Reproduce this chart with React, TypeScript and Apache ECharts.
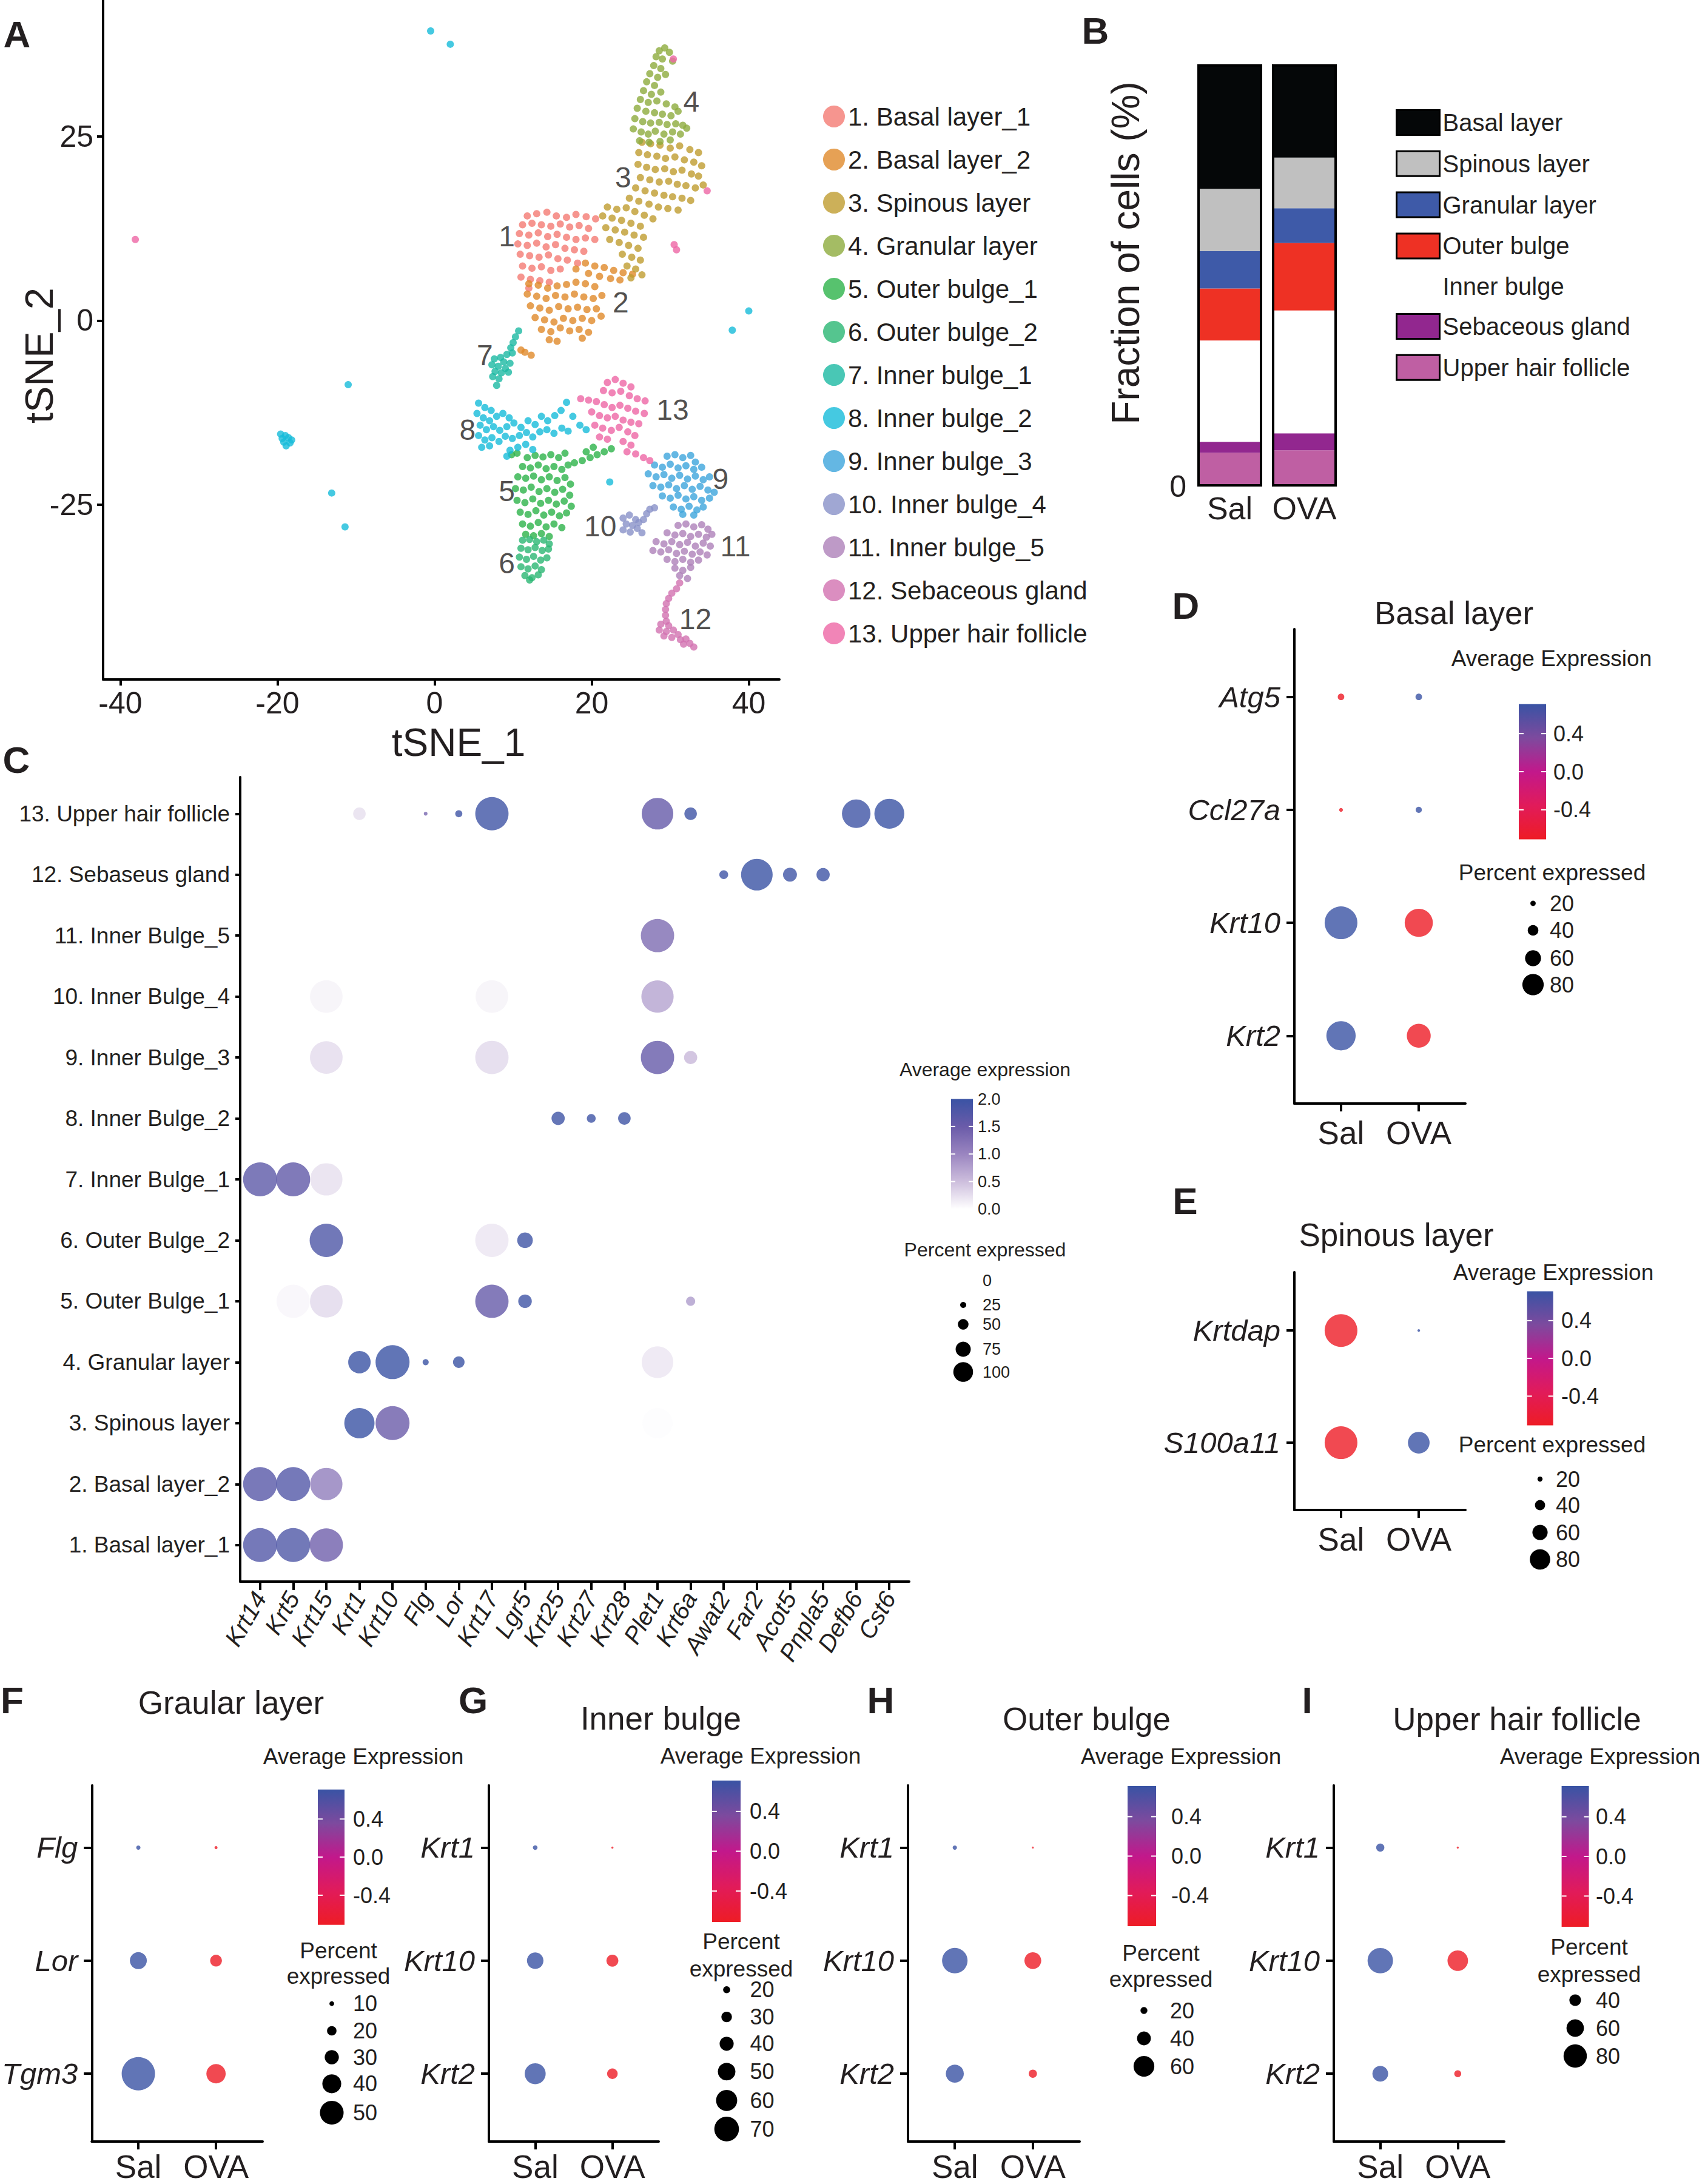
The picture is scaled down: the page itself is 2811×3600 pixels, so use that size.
import React, { useEffect, useRef } from "react";
import * as echarts from "echarts";

const FONT = "'Liberation Sans', Arial, Helvetica, sans-serif";
const INK = "#231f20";

// ================= Panel A : t-SNE =================
const CLUSTER_NAMES = ["1. Basal layer_1", "2. Basal layer_2", "3. Spinous layer", "4. Granular layer", "5. Outer bulge_1", "6. Outer bulge_2", "7. Inner bulge_1", "8. Inner bulge_2", "9. Inner bulge_3", "10. Inner bulge_4", "11. Inner bulge_5", "12. Sebaceous gland", "13. Upper hair follicle"];
const CLUSTER_COLORS = ["#f47b73", "#e0892a", "#bf9c2f", "#8dab3d", "#2db34a", "#2bb673", "#1cb9a2", "#17bcd9", "#3da5dc", "#8891c8", "#ae81b9", "#d272b0", "#ee66a5"];

const C1_PTS = [[11.8,14.2],[13.0,14.5],[14.3,14.7],[15.5,14.2],[16.8,14.0],[18.0,14.4],[19.3,14.1],[20.5,13.8],[11.2,13.0],[12.4,13.2],[13.6,13.0],[14.8,12.8],[16.0,13.1],[17.2,12.7],[18.4,12.9],[19.6,12.5],[10.8,11.8],[12.0,11.6],[13.2,11.9],[14.4,11.4],[15.6,11.7],[16.8,11.3],[18.0,11.0],[19.2,11.2],[20.4,11.0],[10.6,10.4],[11.8,10.2],[13.0,10.5],[14.2,10.0],[15.4,10.3],[16.6,9.8],[17.8,9.6],[19.0,9.4],[10.9,9.0],[12.1,8.8],[13.3,8.6],[14.5,8.9],[15.7,8.4],[16.9,8.2],[18.2,7.8],[11.2,7.4],[12.4,7.1],[13.6,7.3],[14.8,6.8],[16.0,7.0],[11.0,5.9],[12.2,5.6],[13.4,5.4],[14.6,5.2],[12.0,4.4]];
const C2_PTS = [[19.2,7.8],[20.4,7.4],[21.6,7.2],[22.8,6.8],[24.0,6.5],[25.2,6.3],[18.0,7.0],[19.6,6.4],[21.0,6.0],[22.4,5.7],[23.6,5.5],[12.0,5.0],[13.2,4.8],[14.4,4.4],[15.6,4.7],[16.8,4.9],[18.0,5.2],[19.2,5.0],[20.4,4.6],[11.8,3.6],[13.0,3.3],[14.2,3.0],[15.4,3.4],[16.6,3.2],[17.8,3.6],[19.0,3.2],[20.2,3.0],[21.3,3.4],[12.2,2.0],[13.4,1.7],[14.6,1.4],[15.8,1.9],[17.0,1.6],[18.2,1.8],[19.4,1.5],[20.6,1.6],[12.8,0.4],[14.0,0.1],[15.2,-0.2],[16.4,0.3],[17.6,0.0],[18.8,0.3],[20.0,0.0],[21.2,0.6],[13.6,-1.2],[14.8,-1.5],[16.0,-1.0],[17.2,-1.4],[18.4,-1.2],[19.6,-1.6],[14.6,-2.6],[15.6,-2.8],[18.8,-2.4],[11.5,-4.3],[12.3,-4.7],[11.0,-4.0]];
const C3_PTS = [[26.4,24.2],[27.5,24.0],[28.7,23.8],[30.0,23.4],[31.2,23.7],[32.5,23.2],[33.6,22.8],[26.0,22.8],[27.1,22.5],[28.3,22.3],[29.4,22.0],[30.6,22.2],[31.8,21.8],[33.0,21.5],[34.0,21.0],[25.9,21.2],[27.0,20.8],[28.1,20.5],[29.3,20.6],[30.4,20.2],[31.5,20.4],[32.7,19.9],[33.6,19.6],[26.2,19.4],[27.4,19.1],[28.6,18.8],[29.8,18.9],[30.9,18.5],[32.0,18.3],[33.2,18.0],[34.2,18.4],[25.6,18.0],[26.8,17.6],[28.0,17.3],[29.2,17.0],[30.3,16.8],[31.5,16.6],[32.6,16.3],[24.8,16.6],[26.0,16.2],[27.3,15.8],[28.5,15.4],[29.7,15.2],[31.0,15.0],[22.0,15.4],[23.2,15.1],[24.4,15.3],[25.5,14.8],[26.7,14.3],[27.8,13.8],[21.4,14.2],[22.6,13.9],[23.8,13.6],[25.0,13.2],[26.2,12.8],[21.8,12.6],[23.0,12.3],[24.2,12.0],[25.4,11.6],[26.6,11.3],[22.3,11.0],[23.5,10.6],[24.7,10.2],[25.9,9.8],[23.9,9.0],[25.1,8.6],[26.2,8.2],[24.5,7.4],[25.6,7.0],[26.4,6.2],[25.0,5.8]];
const C4_PTS = [[29.3,37.0],[28.6,36.6],[29.9,36.4],[28.2,35.8],[29.0,35.5],[30.3,35.2],[27.9,34.6],[28.8,34.2],[27.4,33.5],[28.4,33.0],[29.4,33.4],[27.0,32.4],[28.0,31.9],[26.6,31.2],[27.6,30.7],[28.8,31.0],[26.2,30.0],[27.2,29.6],[28.3,29.8],[29.5,29.4],[30.6,29.0],[25.8,28.8],[26.9,28.4],[28.0,28.2],[29.0,28.0],[30.1,27.8],[31.0,28.4],[25.5,27.4],[26.5,27.0],[27.5,26.8],[28.6,26.9],[29.6,26.6],[30.7,26.7],[31.6,26.5],[25.3,26.0],[26.3,25.6],[27.2,25.3],[28.1,25.7],[29.2,25.3],[30.3,25.6],[31.3,25.3],[32.1,26.1],[26.1,24.4],[27.3,24.2],[28.7,24.3],[30.0,24.5]];
const C5_PTS = [[11.8,-18.6],[12.8,-18.3],[13.8,-18.5],[14.8,-18.2],[15.8,-18.6],[16.6,-18.0],[11.2,-19.8],[12.2,-20.0],[13.2,-19.6],[14.2,-20.1],[15.2,-19.8],[16.2,-20.2],[17.0,-19.6],[10.6,-21.2],[11.6,-21.4],[12.6,-21.1],[13.6,-21.6],[14.6,-21.2],[15.6,-21.7],[16.6,-21.3],[17.3,-22.2],[10.3,-22.8],[11.3,-23.0],[12.3,-22.6],[13.3,-23.2],[14.3,-22.8],[15.3,-23.3],[16.3,-22.9],[17.2,-23.7],[10.5,-24.4],[11.5,-24.7],[12.5,-24.2],[13.5,-24.8],[14.5,-24.4],[15.5,-24.9],[16.5,-24.5],[17.4,-25.2],[10.9,-26.0],[11.9,-26.3],[12.9,-25.8],[13.9,-26.4],[14.9,-26.0],[15.9,-26.5],[16.8,-26.1],[11.2,-27.6],[12.2,-27.9],[13.2,-27.4],[14.2,-28.0],[15.2,-27.6],[16.2,-28.1],[11.6,-29.0],[12.6,-29.2],[13.6,-28.9],[14.6,-29.3],[9.8,-18.2],[10.5,-18.0],[17.8,-19.3],[18.8,-19.0],[19.8,-18.6],[20.7,-18.2],[21.6,-17.8],[22.5,-17.4],[19.3,-17.8],[20.2,-17.2]];
const C6_PTS = [[11.2,-29.8],[12.1,-29.7],[13.0,-30.0],[13.9,-29.8],[14.6,-30.3],[11.0,-30.9],[11.9,-31.1],[12.8,-30.8],[13.7,-31.2],[14.5,-31.0],[10.8,-32.1],[11.7,-32.4],[12.6,-32.0],[13.5,-32.5],[14.3,-32.2],[11.0,-33.4],[11.9,-33.7],[12.8,-33.3],[13.6,-33.8],[11.5,-34.6],[12.4,-34.9],[13.2,-34.5],[12.1,-35.2]];
const C7_PTS = [[10.7,-1.4],[10.3,-2.2],[10.0,-3.0],[9.7,-3.7],[9.9,-4.4],[9.2,-4.6],[8.4,-5.0],[7.6,-5.2],[8.8,-5.6],[9.6,-5.8],[7.3,-6.0],[8.1,-6.2],[9.0,-6.5],[7.7,-6.9],[8.5,-7.1],[9.4,-7.0],[7.4,-7.6],[8.2,-7.9],[7.9,-8.8]];
const C8_PTS = [[5.6,-11.2],[6.4,-11.8],[7.2,-12.2],[5.4,-12.6],[6.2,-13.2],[7.0,-13.6],[7.9,-13.0],[8.7,-12.6],[9.5,-13.2],[5.8,-14.2],[6.6,-14.8],[7.5,-14.4],[8.3,-14.9],[9.2,-14.4],[10.1,-13.9],[11.0,-14.5],[11.9,-13.6],[12.8,-14.1],[13.6,-13.0],[14.4,-13.6],[15.3,-12.9],[16.1,-12.2],[16.8,-11.1],[17.6,-13.0],[18.5,-14.2],[19.3,-14.8],[5.6,-15.6],[6.4,-16.2],[7.3,-15.9],[8.2,-16.4],[9.0,-15.7],[9.9,-16.0],[10.8,-15.6],[11.7,-15.2],[12.5,-15.8],[13.4,-15.1],[14.3,-14.8],[15.2,-15.3],[16.2,-14.6],[17.0,-15.0],[6.0,-17.2],[7.0,-17.0],[9.6,-17.6],[10.6,-17.2],[11.6,-16.8],[12.5,-17.5],[9.2,-18.4],[-19.0,-15.6],[-19.4,-16.0],[-18.6,-15.9],[-19.2,-16.5],[-18.4,-16.6],[-18.9,-17.0],[-19.6,-15.4],[-18.2,-16.2],[-0.5,39.3],[2.0,37.5],[-11.0,-8.7],[-13.1,-23.4],[-11.4,-28.0],[37.9,-1.3],[40.0,1.3],[22.3,-21.9]];
const C9_PTS = [[29.6,-18.4],[30.6,-18.2],[31.6,-18.6],[32.6,-18.3],[33.2,-19.2],[28.0,-19.6],[29.0,-19.9],[30.0,-19.5],[31.0,-20.0],[32.0,-19.7],[33.0,-20.2],[34.0,-19.9],[27.2,-20.8],[28.2,-21.2],[29.2,-20.9],[30.2,-21.4],[31.2,-21.0],[32.2,-21.5],[33.2,-21.1],[34.2,-21.6],[35.0,-21.2],[27.8,-22.4],[28.8,-22.6],[29.8,-22.3],[30.8,-22.8],[31.8,-22.4],[32.8,-22.9],[33.8,-22.5],[34.8,-23.0],[35.6,-23.3],[29.0,-23.8],[30.0,-24.1],[31.0,-23.7],[32.0,-24.2],[33.0,-23.9],[34.0,-24.4],[35.0,-24.1],[30.4,-25.3],[31.4,-25.6],[32.4,-25.2],[33.4,-25.7],[34.2,-25.3],[31.6,-26.3],[33.0,-26.4]];
const C10_PTS = [[24.0,-26.8],[24.8,-26.4],[25.6,-27.0],[24.4,-27.6],[25.2,-27.8],[26.0,-27.4],[24.0,-28.4],[24.9,-28.7],[25.8,-28.2],[26.6,-27.0],[27.0,-26.2],[27.4,-25.6],[28.0,-25.4],[26.4,-28.8]];
const C11_PTS = [[31.0,-27.8],[32.0,-27.6],[33.0,-28.0],[34.0,-27.7],[34.8,-28.3],[29.6,-28.8],[30.6,-29.1],[31.6,-28.9],[32.6,-29.3],[33.6,-29.0],[34.6,-29.4],[35.3,-29.0],[28.2,-30.0],[29.2,-30.3],[30.2,-30.0],[31.2,-30.4],[32.2,-30.1],[33.2,-30.6],[34.2,-30.2],[35.1,-30.6],[27.8,-31.2],[28.8,-31.4],[29.8,-31.1],[30.8,-31.6],[31.8,-31.3],[32.8,-31.7],[33.8,-31.4],[34.7,-31.8],[29.6,-32.4],[30.6,-32.7],[31.6,-32.4],[32.6,-32.8],[33.6,-32.5],[30.6,-33.6],[31.6,-33.9],[32.6,-33.5],[31.2,-34.6],[32.2,-35.0]];
const C12_PTS = [[31.2,-35.6],[30.8,-36.4],[30.2,-37.0],[29.8,-37.7],[29.5,-38.4],[29.4,-39.2],[29.4,-40.0],[29.5,-40.8],[28.8,-41.2],[29.8,-41.4],[28.6,-42.0],[29.5,-42.2],[30.4,-42.0],[31.0,-42.6],[29.2,-42.8],[30.2,-43.0],[31.3,-43.3],[32.0,-43.2],[32.5,-43.8],[33.0,-44.3],[31.7,-43.9]];
const C13_PTS = [[22.0,-8.4],[23.0,-8.0],[24.0,-8.5],[25.0,-9.0],[21.5,-9.5],[22.6,-9.8],[23.7,-9.6],[24.8,-10.2],[25.8,-10.6],[26.8,-10.9],[18.6,-10.6],[19.6,-10.8],[20.6,-11.0],[21.6,-11.4],[22.6,-11.8],[23.6,-11.5],[24.6,-11.9],[25.6,-12.3],[26.7,-12.6],[20.0,-12.4],[21.0,-12.9],[22.0,-13.2],[23.0,-13.0],[24.0,-13.5],[25.0,-13.8],[26.0,-14.0],[20.4,-14.2],[21.4,-14.6],[22.5,-14.9],[23.5,-14.5],[24.6,-15.1],[25.5,-15.6],[21.0,-15.8],[22.0,-16.1],[24.0,-16.4],[25.0,-16.9],[24.5,-17.8],[25.6,-18.1],[26.6,-18.6],[27.4,-19.0],[-38.1,11.0],[30.8,9.6],[30.5,10.3],[34.7,17.6],[30.4,35.5]];
const CLUSTER_POINTS = [C1_PTS, C2_PTS, C3_PTS, C4_PTS, C5_PTS, C6_PTS, C7_PTS, C8_PTS, C9_PTS, C10_PTS, C11_PTS, C12_PTS, C13_PTS];
const CLUSTER_TAGS = ["1", "2", "3", "4", "5", "6", "7", "8", "9", "10", "11", "12", "13"];
const CLUSTER_TAG_XY = [[9.2,11.4],[23.7,2.5],[24.0,19.4],[32.7,29.7],[9.2,-23.1],[9.2,-32.9],[6.4,-4.7],[4.2,-14.8],[36.4,-21.5],[21.1,-27.9],[38.3,-30.6],[33.2,-40.5],[30.3,-12.1]];
const TSNE_X_TICKS = [-40, -20, 0, 20, 40];
const TSNE_Y_TICKS = [-25, 0, 25];

// ================= Panel B : fractions =================
const B_GROUPS = ["Sal", "OVA"];
const B_TYPES = ["Upper hair follicle", "Sebaceous gland", "Inner bulge", "Outer bulge", "Granular layer", "Spinous layer", "Basal layer"]; // bottom -> top
const B_SAL = [8.0, 2.6, 24.0, 12.3, 8.9, 14.7, 29.5];
const B_OVA = [8.6, 4.0, 29.1, 16.0, 8.2, 12.0, 22.1];
const B_COLORS = ["#bf5fa3", "#92278f", "#ffffff", "#ee3124", "#3e5aa8", "#c0c0c0", "#050708"];
const B_LEGEND_ORDER = ["Basal layer", "Spinous layer", "Granular layer", "Outer bulge", "Inner bulge", "Sebaceous gland", "Upper hair follicle"];

// ================= Panel C : marker dot plot =================
const C_GENES = ["Krt14", "Krt5", "Krt15", "Krt1", "Krt10", "Flg", "Lor", "Krt17", "Lgr5", "Krt25", "Krt27", "Krt28", "Plet1", "Krt6a", "Awat2", "Far2", "Acot5", "Pnpla5", "Defb6", "Cst6"];
const C_CLUSTERS = ["1. Basal layer_1", "2. Basal layer_2", "3. Spinous layer", "4. Granular layer", "5. Outer Bulge_1", "6. Outer Bulge_2", "7. Inner Bulge_1", "8. Inner Bulge_2", "9. Inner Bulge_3", "10. Inner Bulge_4", "11. Inner Bulge_5", "12. Sebaseus gland", "13. Upper hair follicle"];
// [gene, cluster number, average expression, percent expressed]
const C_DOTS: [string, number, number, number][] = [
  ["Krt1",13,0.25,37],["Flg",13,1.35,11],["Lor",13,1.95,21],["Krt17",13,1.95,98],["Plet1",13,1.55,93],["Krt6a",13,1.95,37],["Defb6",13,1.95,84],["Cst6",13,2.0,88],
  ["Awat2",12,1.95,26],["Far2",12,2.0,93],["Acot5",12,1.95,41],["Pnpla5",12,1.95,39],
  ["Plet1",11,1.3,98],
  ["Krt15",10,0.1,96],["Krt17",10,0.1,96],["Plet1",10,0.75,95],
  ["Krt15",9,0.28,96],["Krt17",9,0.3,98],["Plet1",9,1.55,98],["Krt6a",9,0.55,39],
  ["Krt25",8,1.95,39],["Krt27",8,1.95,26],["Krt28",8,1.95,37],
  ["Krt14",7,1.65,100],["Krt5",7,1.6,100],["Krt15",7,0.25,95],
  ["Krt15",6,1.8,98],["Krt17",6,0.2,98],["Lgr5",6,1.95,46],
  ["Krt5",5,0.08,98],["Krt15",5,0.3,96],["Krt17",5,1.55,98],["Lgr5",5,1.95,40],["Krt6a",5,0.8,27],
  ["Krt1",4,2.0,66],["Krt10",4,2.0,100],["Flg",4,2.0,18],["Lor",4,2.0,34],["Plet1",4,0.2,93],
  ["Krt1",3,2.0,89],["Krt10",3,1.5,100],["Plet1",3,0.02,89],
  ["Krt14",2,1.7,100],["Krt5",2,1.75,100],["Krt15",2,1.1,95],
  ["Krt14",1,1.75,100],["Krt5",1,1.78,100],["Krt15",1,1.45,98],
];
const C_EXP_TICKS = [2.0, 1.5, 1.0, 0.5, 0.0];
const C_PCT_BREAKS = [0, 25, 50, 75, 100];
const C_GRADIENT = ["#ffffff", "#cdbedd", "#9a85c0", "#6a5ba9", "#3a53a4"]; // low -> high

// ================= Panels D-I : Sal vs OVA =================
const CONDITIONS = ["Sal", "OVA"];
const EXP_LIMIT = 0.71;
const EXP_TICKS = [0.4, 0.0, -0.4];
const DI_GRADIENT = ["#ee1c25", "#e11b5a", "#c2188b", "#7d4a9e", "#3953a4"]; // low -> high

const D_GENES = ["Atg5", "Ccl27a", "Krt10", "Krt2"];
const D_SAL_EXP = [-0.71, -0.71, 0.71, 0.71];
const D_OVA_EXP = [0.71, 0.71, -0.71, -0.71];
const D_SAL_PCT = [17, 10, 85, 76];
const D_OVA_PCT = [17, 16, 73, 62];
const D_BREAKS = [20, 40, 60, 80];

const E_GENES = ["Krtdap", "S100a11"];
const E_SAL_EXP = [-0.71, -0.71];
const E_OVA_EXP = [0.71, 0.71];
const E_SAL_PCT = [90, 90];
const E_OVA_PCT = [7, 59.5];
const E_BREAKS = [20, 40, 60, 80];

const F_GENES = ["Flg", "Lor", "Tgm3"];
const F_SAL_EXP = [0.71, 0.71, 0.71];
const F_OVA_EXP = [-0.71, -0.71, -0.71];
const F_SAL_PCT = [6.4, 25.5, 50];
const F_OVA_PCT = [4.5, 17.7, 29];
const F_BREAKS = [10, 20, 30, 40, 50];

const G_GENES = ["Krt1", "Krt10", "Krt2"];
const G_SAL_EXP = [0.71, 0.71, 0.71];
const G_OVA_EXP = [-0.71, -0.71, -0.71];
const G_SAL_PCT = [13, 47, 59.5];
const G_OVA_PCT = [6, 34, 30];
const G_BREAKS = [20, 30, 40, 50, 60, 70];

const H_GENES = ["Krt1", "Krt10", "Krt2"];
const H_SAL_EXP = [0.71, 0.71, 0.71];
const H_OVA_EXP = [-0.71, -0.71, -0.71];
const H_SAL_PCT = [11, 65, 46];
const H_OVA_PCT = [5, 43, 21];
const H_BREAKS = [20, 40, 60];

const I_GENES = ["Krt1", "Krt10", "Krt2"];
const I_SAL_EXP = [0.71, 0.71, 0.71];
const I_OVA_EXP = [-0.71, -0.71, -0.71];
const I_SAL_PCT = [27.5, 85.5, 53];
const I_OVA_PCT = [7, 69, 23.5];
const I_BREAKS = [40, 60, 80];

// ---------- helpers ----------
function T(x: number, y: number, text: string, size: number, o: any = {}) {
  const font = `${o.italic ? "italic " : ""}${o.bold ? "bold " : ""}${size}px ${FONT}`;
  const align = o.align || "center";
  return {
    type: "text", x, y, rotation: o.rotation || 0, silent: true, z: 100,
    style: { text, font, fill: o.fill || INK, align, textAlign: align, verticalAlign: "middle", textVerticalAlign: "middle" },
  };
}
function dot(cx: number, cy: number, d: number) {
  return { type: "circle", silent: true, z: 100, shape: { cx, cy, r: Math.max(d / 2, 0.8) }, style: { fill: "#000" } };
}
function vgrad(x: number, y: number, w: number, h: number, topToBottom: string[]) {
  const n = topToBottom.length;
  return {
    type: "rect", silent: true, z: 100, shape: { x, y, width: w, height: h },
    style: { fill: { type: "linear", x: 0, y: 0, x2: 0, y2: 1, colorStops: topToBottom.map((c, i) => ({ offset: i / (n - 1), color: c })) } },
  };
}
function wline(x1: number, y1: number, x2: number, y2: number) {
  return { type: "line", silent: true, z: 101, shape: { x1, y1, x2, y2 }, style: { stroke: "#ffffff", lineWidth: 2 } };
}
const AX_LINE = { show: true, onZero: false, lineStyle: { color: "#000", width: 4 } };

export default function App() {
  const ref = useRef<HTMLDivElement>(null);
  useEffect(() => {
    if (!ref.current) return;
    const chart = echarts.init(ref.current, null, { renderer: "svg" });
    const grids: any[] = [], xAxes: any[] = [], yAxes: any[] = [], series: any[] = [], graphics: any[] = [];
    const addGrid = (g: any, x: any, y: any) => {
      const gi = grids.length;
      grids.push({ ...g, containLabel: false });
      xAxes.push({ ...x, gridIndex: gi });
      yAxes.push({ ...y, gridIndex: gi });
      return gi;
    };

    // ===== Panel A =====
    const gA = addGrid(
      { left: 170, top: 0, width: 1115, height: 1120 },
      { type: "value", min: -42.2, max: 43.9, axisLine: AX_LINE, splitLine: { show: false },
        axisTick: { show: true, length: 10, customValues: TSNE_X_TICKS, lineStyle: { color: "#000", width: 4 } },
        axisLabel: { customValues: TSNE_X_TICKS, fontSize: 50, margin: 14, color: INK, fontFamily: FONT } },
      { type: "value", min: -48.7, max: 43.5, axisLine: AX_LINE, splitLine: { show: false },
        axisTick: { show: true, length: 10, customValues: TSNE_Y_TICKS, lineStyle: { color: "#000", width: 4 } },
        axisLabel: { customValues: TSNE_Y_TICKS, fontSize: 50, margin: 16, color: INK, fontFamily: FONT } }
    );
    CLUSTER_POINTS.forEach((pts, i) => {
      series.push({ name: CLUSTER_NAMES[i], type: "scatter", xAxisIndex: gA, yAxisIndex: gA, symbolSize: 12,
        itemStyle: { color: CLUSTER_COLORS[i] }, data: pts, silent: true });
    });
    series.push({ name: "cluster-tags", type: "scatter", xAxisIndex: gA, yAxisIndex: gA, symbolSize: 1,
      itemStyle: { color: "rgba(0,0,0,0)" }, silent: true, z: 5,
      label: { show: true, position: "inside", formatter: (p: any) => p.name, fontSize: 48, color: INK, fontFamily: FONT },
      data: CLUSTER_TAGS.map((t, i) => ({ name: t, value: CLUSTER_TAG_XY[i] })) });
    graphics.push(T(28, 56, "A", 62, { bold: true }));
    graphics.push(T(756, 1224, "tSNE_1", 64));
    graphics.push(T(64, 586, "tSNE_2", 65, { rotation: Math.PI / 2 }));

    // ===== Panel B =====
    const gB = addGrid(
      { left: 1966, top: 106, width: 246, height: 696 },
      { type: "category", data: B_GROUPS, axisLine: { show: false }, axisTick: { show: false },
        axisLabel: { interval: 0, hideOverlap: false, fontSize: 52, margin: 10, color: INK, fontFamily: FONT } },
      { type: "value", min: 0, max: 100, axisLine: { show: false }, axisTick: { show: false }, splitLine: { show: false },
        axisLabel: { customValues: [0], fontSize: 50, margin: 10, color: INK, fontFamily: FONT } }
    );
    B_TYPES.forEach((t, i) => {
      series.push({ name: t, type: "bar", stack: "frac", xAxisIndex: gB, yAxisIndex: gB, barWidth: 107,
        itemStyle: { color: B_COLORS[i] }, data: [B_SAL[i], B_OVA[i]], silent: true });
    });
    series.push({ name: "outline", type: "bar", xAxisIndex: gB, yAxisIndex: gB, barWidth: 107, barGap: "-100%", z: 10,
      itemStyle: { color: "rgba(0,0,0,0)", borderColor: "#000", borderWidth: 4 },
      data: B_GROUPS.map((_, j) => [B_SAL, B_OVA][j].reduce((a, b) => a + b, 0)), silent: true });
    graphics.push(T(1806, 50, "B", 62, { bold: true }));
    graphics.push(T(1856, 417, "Fraction of cells (%)", 64, { rotation: Math.PI / 2 }));

    // ===== Panel C =====
    const C_K = 0.56;
    const cRows = C_CLUSTERS.map((_, i) => i + 1);
    const cCols = C_GENES.map((_, i) => i + 1);
    const gC = addGrid(
      { left: 396, top: 1281, width: 1103, height: 1326 },
      { type: "value", min: 0.4, max: C_GENES.length + 0.6, axisLine: AX_LINE, splitLine: { show: false },
        axisTick: { show: true, length: 14, customValues: cCols, lineStyle: { color: "#000", width: 4 } },
        axisLabel: { customValues: cCols, formatter: (v: number) => C_GENES[Math.round(v) - 1] || "", rotate: 60,
          fontSize: 40, fontStyle: "italic", margin: 20, color: INK, fontFamily: FONT } },
      { type: "value", min: 0.4, max: C_CLUSTERS.length + 0.6, axisLine: AX_LINE, splitLine: { show: false },
        axisTick: { show: true, length: 8, customValues: cRows, lineStyle: { color: "#000", width: 4 } },
        axisLabel: { customValues: cRows, formatter: (v: number) => C_CLUSTERS[Math.round(v) - 1] || "",
          fontSize: 37, margin: 17, color: INK, fontFamily: FONT } }
    );
    const cSeriesIdx = series.length;
    series.push({ name: "marker-dots", type: "scatter", xAxisIndex: gC, yAxisIndex: gC, silent: true,
      symbolSize: (v: number[]) => v[3] * C_K,
      data: C_DOTS.map(([g, cl, e, p]) => [C_GENES.indexOf(g) + 1, cl, e, p]) });
    graphics.push(T(27, 1252, "C", 62, { bold: true }));
    // C legend
    graphics.push(T(1624, 1763, "Average expression", 32));
    const cBarTop = 1811.5, cBarH = 181.5, cBarX = 1568, cBarW = 36;
    graphics.push(vgrad(cBarX, cBarTop, cBarW, cBarH, [...C_GRADIENT].reverse()));
    C_EXP_TICKS.forEach((v) => {
      const y = cBarTop + cBarH * (2 - v) / 2;
      if (v > 0 && v < 2) { graphics.push(wline(cBarX, y, cBarX + 7, y)); graphics.push(wline(cBarX + cBarW - 7, y, cBarX + cBarW, y)); }
      graphics.push(T(1612, y, v.toFixed(1), 27, { align: "left" }));
    });
    graphics.push(T(1624, 2060, "Percent expressed", 32));
    const cSizeY = [2111, 2151, 2183, 2224, 2261.5];
    C_PCT_BREAKS.forEach((p, i) => {
      graphics.push(dot(1588, cSizeY[i], 2.5 + 0.3 * p));
      graphics.push(T(1620, cSizeY[i], String(p), 27, { align: "left" }));
    });

    // ===== Panels D - I =====
    const panels = [
      { L: { letter: "D", lx: 1955, ly: 998, title: "Basal layer", tx: 2397, ty: 1010, left: 2134, top: 1037, width: 282, height: 782, yMax: 4.6, xm: 22,
             avgX: 2558, avgY: 1085, barX: 2504, barY: 1160.5, barW: 45, barH: 223, barLX: 2561, pct: ["Percent expressed"], pctX: 2559, pctY: [1438],
             sX: 2527.5, sY: [1489, 1533.5, 1579.5, 1623], sLX: 2555 },
        genes: D_GENES, salE: D_SAL_EXP, ovaE: D_OVA_EXP, salP: D_SAL_PCT, ovaP: D_OVA_PCT, breaks: D_BREAKS, plotK: 0.635, legK: 0.44 },
      { L: { letter: "E", lx: 1954, ly: 1979, title: "Spinous layer", tx: 2302, ty: 2035, left: 2134, top: 2097, width: 282, height: 392, yMax: 2.52, xm: 22,
             avgX: 2561, avgY: 2097, barX: 2517.7, barY: 2128.6, barW: 43, barH: 221, barLX: 2574, pct: ["Percent expressed"], pctX: 2559, pctY: [2381],
             sX: 2539, sY: [2438, 2481, 2526, 2570.5], sLX: 2565 },
        genes: E_GENES, salE: E_SAL_EXP, ovaE: E_OVA_EXP, salP: E_SAL_PCT, ovaP: E_OVA_PCT, breaks: E_BREAKS, plotK: 0.6, legK: 0.42 },
      { L: { letter: "F", lx: 20, ly: 2802, title: "Graular layer", tx: 381, ty: 2806, left: 150, top: 2943, width: 283, height: 587, yMax: 3.55, xm: 15,
             avgX: 599, avgY: 2895, barX: 524, barY: 2949.7, barW: 44, barH: 223, barLX: 582, pct: ["Percent", "expressed"], pctX: 558, pctY: [3215, 3257],
             sX: 547, sY: [3302.7, 3347.5, 3391, 3434.8, 3482.4], sLX: 582 },
        genes: F_GENES, salE: F_SAL_EXP, ovaE: F_OVA_EXP, salP: F_SAL_PCT, ovaP: F_OVA_PCT, breaks: F_BREAKS, plotK: 1.1, legK: 0.78 },
      { L: { letter: "G", lx: 780, ly: 2802, title: "Inner bulge", tx: 1089.5, ty: 2832, left: 806, top: 2943, width: 280, height: 587, yMax: 3.55, xm: 15,
             avgX: 1254, avgY: 2894, barX: 1174, barY: 2935, barW: 47, barH: 233, barLX: 1236, pct: ["Percent", "expressed"], pctX: 1222, pctY: [3200.6, 3245],
             sX: 1198, sY: [3279.8, 3324.6, 3368.8, 3414.7, 3462.3, 3509.4], sLX: 1236.6 },
        genes: G_GENES, salE: G_SAL_EXP, ovaE: G_OVA_EXP, salP: G_SAL_PCT, ovaP: G_OVA_PCT, breaks: G_BREAKS, plotK: 0.58, legK: 0.58 },
      { L: { letter: "H", lx: 1452, ly: 2802, title: "Outer bulge", tx: 1791.5, ty: 2833, left: 1497, top: 2943, width: 283, height: 587, yMax: 3.55, xm: 15,
             avgX: 1947, avgY: 2895, barX: 1859, barY: 2944, barW: 47, barH: 231, barLX: 1931, pct: ["Percent", "expressed"], pctX: 1914, pctY: [3219.5, 3262.6],
             sX: 1886, sY: [3314, 3360, 3406], sLX: 1929 },
        genes: H_GENES, salE: H_SAL_EXP, ovaE: H_OVA_EXP, salP: H_SAL_PCT, ovaP: H_OVA_PCT, breaks: H_BREAKS, plotK: 0.646, legK: 0.57 },
      { L: { letter: "I", lx: 2155, ly: 2802, title: "Upper hair follicle", tx: 2501, ty: 2833, left: 2199, top: 2943, width: 281, height: 587, yMax: 3.55, xm: 15,
             avgX: 2638, avgY: 2895, barX: 2574.6, barY: 2944, barW: 45, barH: 232, barLX: 2631, pct: ["Percent", "expressed"], pctX: 2620, pctY: [3209.8, 3254],
             sX: 2597, sY: [3297, 3343, 3389], sLX: 2631 },
        genes: I_GENES, salE: I_SAL_EXP, ovaE: I_OVA_EXP, salP: I_SAL_PCT, ovaP: I_OVA_PCT, breaks: I_BREAKS, plotK: 0.49, legK: 0.48 },
    ];
    const diSeriesIdx: number[] = [];
    panels.forEach((pn) => {
      const L = pn.L;
      const n = pn.genes.length;
      const rows = pn.genes.map((_, i) => i + 1);
      const gi = addGrid(
        { left: L.left, top: L.top, width: L.width, height: L.height },
        { type: "value", min: 0.4, max: 2.6, axisLine: AX_LINE, splitLine: { show: false },
          axisTick: { show: true, length: 13, customValues: [1, 2], lineStyle: { color: "#000", width: 4 } },
          axisLabel: { customValues: [1, 2], formatter: (v: number) => CONDITIONS[Math.round(v) - 1] || "",
            fontSize: 53, margin: L.xm, color: INK, fontFamily: FONT } },
        { type: "value", min: 0.4, max: L.yMax, axisLine: AX_LINE, splitLine: { show: false },
          axisTick: { show: true, length: 13, customValues: rows, lineStyle: { color: "#000", width: 4 } },
          axisLabel: { customValues: rows, formatter: (v: number) => pn.genes[n - Math.round(v)] || "",
            fontSize: 49, fontStyle: "italic", margin: 23, color: INK, fontFamily: FONT } }
      );
      const data: number[][] = [];
      pn.genes.forEach((_, i) => {
        data.push([1, n - i, pn.salE[i], pn.salP[i]]);
        data.push([2, n - i, pn.ovaE[i], pn.ovaP[i]]);
      });
      diSeriesIdx.push(series.length);
      const k = pn.plotK;
      series.push({ name: "dots-" + L.letter, type: "scatter", xAxisIndex: gi, yAxisIndex: gi, silent: true,
        symbolSize: (v: number[]) => Math.max(v[3] * k, 2), data });
      graphics.push(T(L.lx, L.ly, L.letter, 62, { bold: true }));
      graphics.push(T(L.tx, L.ty, L.title, 53));
      graphics.push(T(L.avgX, L.avgY, "Average Expression", 37));
      graphics.push(vgrad(L.barX, L.barY, L.barW, L.barH, [...DI_GRADIENT].reverse()));
      EXP_TICKS.forEach((v) => {
        const y = L.barY + L.barH * (EXP_LIMIT - v) / (2 * EXP_LIMIT);
        graphics.push(wline(L.barX, y, L.barX + 8, y));
        graphics.push(wline(L.barX + L.barW - 8, y, L.barX + L.barW, y));
        graphics.push(T(L.barLX, y, v.toFixed(1), 36, { align: "left" }));
      });
      L.pct.forEach((s: string, i: number) => graphics.push(T(L.pctX, L.pctY[i], s, 37)));
      pn.breaks.forEach((b, i) => {
        graphics.push(dot(L.sX, L.sY[i], b * pn.legK));
        graphics.push(T(L.sLX, L.sY[i], String(b), 36, { align: "left" }));
      });
    });

    const option: any = {
      animation: false,
      backgroundColor: "#ffffff",
      textStyle: { fontFamily: FONT, color: INK },
      grid: grids,
      xAxis: xAxes,
      yAxis: yAxes,
      series,
      visualMap: [
        { type: "continuous", show: false, seriesIndex: cSeriesIdx, dimension: 2, min: 0, max: 2, inRange: { color: C_GRADIENT } },
        { type: "continuous", show: false, seriesIndex: diSeriesIdx, dimension: 2, min: -EXP_LIMIT, max: EXP_LIMIT, inRange: { color: DI_GRADIENT } },
      ],
      legend: [
        { orient: "vertical", left: 1357, top: 171, padding: 0, itemWidth: 36, itemHeight: 36, itemGap: 29, icon: "circle",
          selectedMode: false, textStyle: { fontSize: 42, lineHeight: 40, color: INK, fontFamily: FONT },
          data: CLUSTER_NAMES.map((name) => ({ name })) },
        { orient: "vertical", left: 2301, top: 180, padding: 0, itemWidth: 71, itemHeight: 41, itemGap: 23.8, icon: "rect",
          selectedMode: false, textStyle: { fontSize: 40, lineHeight: 41, color: INK, fontFamily: FONT },
          itemStyle: { borderColor: "#000", borderWidth: 3 },
          data: B_LEGEND_ORDER.map((name) => name === "Inner bulge" ? { name, itemStyle: { borderWidth: 0, borderColor: "#fff" } } : { name }) },
      ],
      graphic: { elements: graphics },
    };
    chart.setOption(option);
    return () => chart.dispose();
  }, []);
  return <div ref={ref} style={{ position: "absolute", left: 0, top: 0, width: 2811, height: 3600, background: "#fff" }} />;
}
